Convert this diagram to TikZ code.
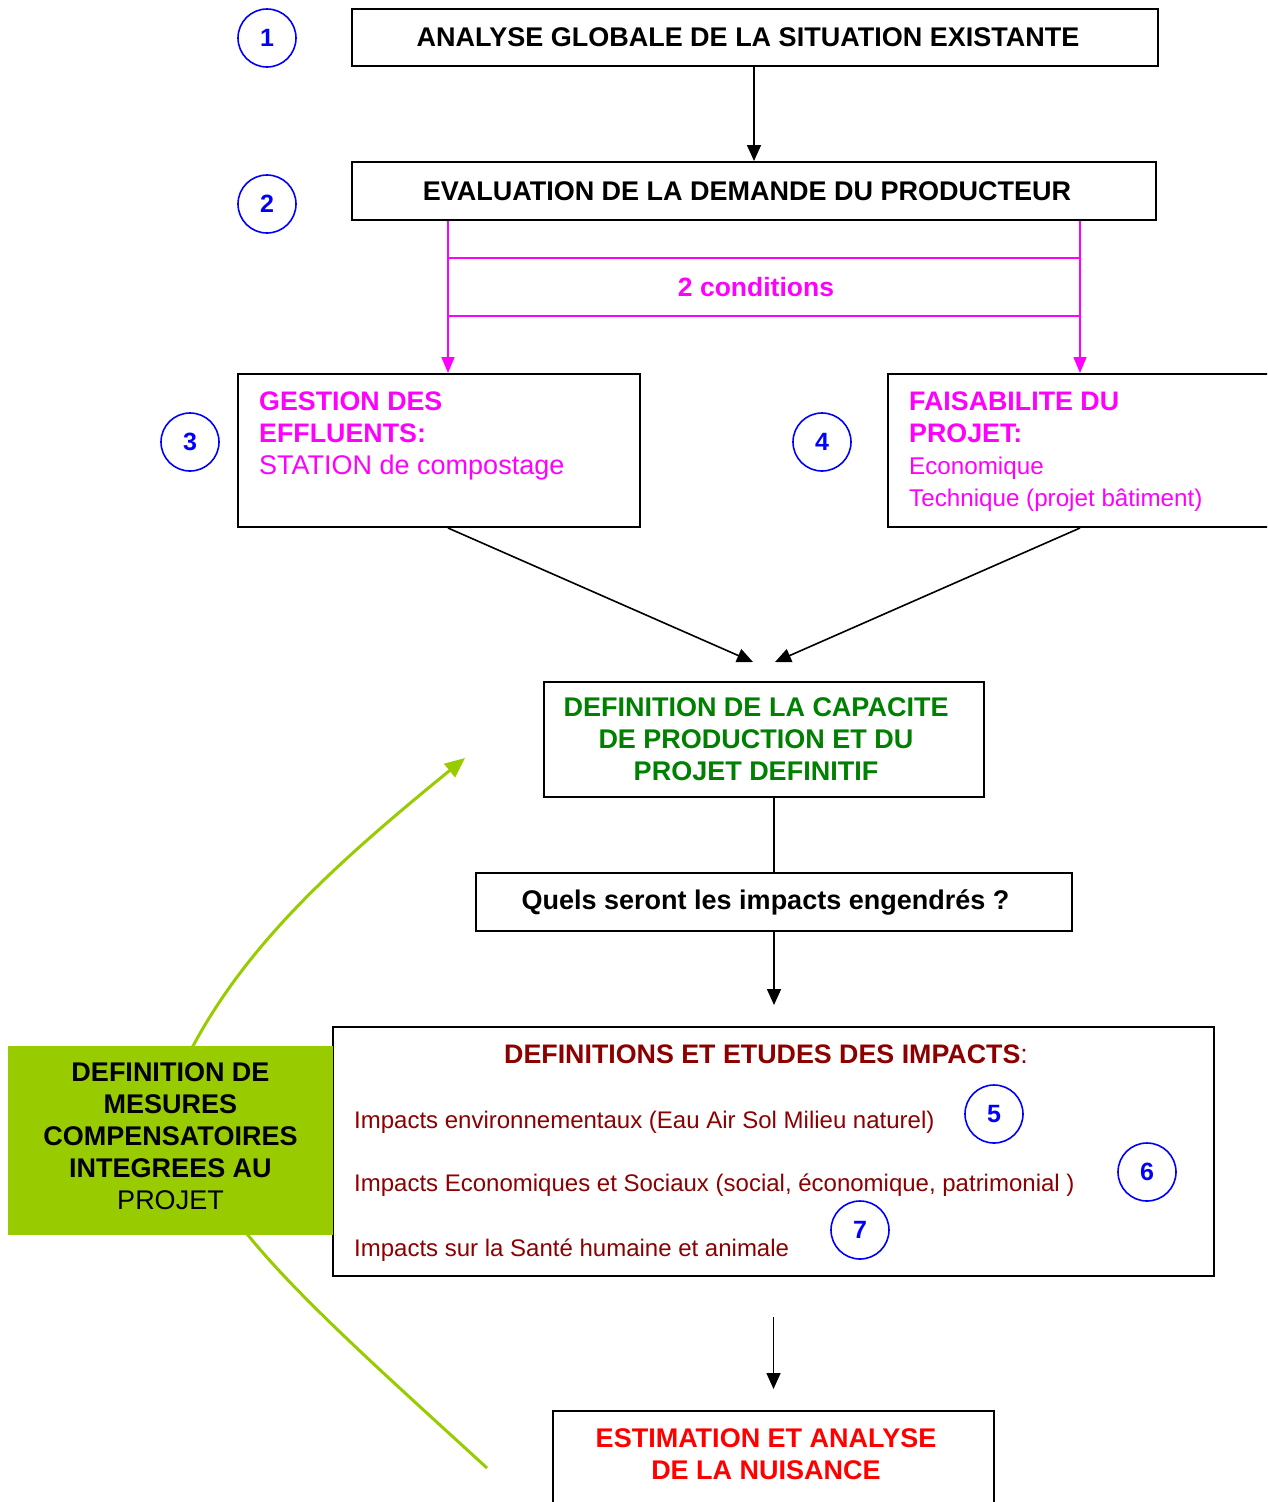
\documentclass[tikz,border=0pt]{standalone}
\usepackage{fontspec}
\setmainfont{Liberation Sans}
\usetikzlibrary{arrows.meta}
\definecolor{mag}{RGB}{255,0,255}
\definecolor{numblue}{RGB}{0,0,255}
\definecolor{dgreen}{RGB}{0,128,0}
\definecolor{dred}{RGB}{140,0,0}
\definecolor{lgreen}{RGB}{153,204,0}
\newcommand{\fsz}[2]{\fontsize{#1}{#2}\selectfont}
\begin{document}
\begin{tikzpicture}[x=1pt,y=-1pt,
  box/.style={draw=black,line width=2pt,inner sep=0pt,fill=white},
  num/.style={circle,draw=numblue,line width=1.6pt,minimum size=58pt,inner sep=0pt,text=numblue,font=\fsz{25}{28}\bfseries},
  arr/.style={-{Triangle[length=16pt,width=14pt]},line width=1.6pt},
  marr/.style={draw=mag,line width=1.6pt,-{Triangle[length=16pt,width=13pt]},mag},
  head/.style={font=\fsz{27}{32}\bfseries}
]
\clip (0,0) rectangle (1267,1502);
\fill[white] (0,0) rectangle (1267,1502);

% green curved arrow (behind the green box)
\coordinate (gstart) at (487,1468);
\coordinate (gend) at (465,758);
\draw[draw=lgreen,line width=3pt,-{Triangle[length=20pt,width=17pt]},lgreen]
  (gstart) .. controls (380,1370) and (290,1290) .. (240,1225)
  .. controls (190,1160) and (175,1090) .. (193,1046)
  .. controls (250,940) and (340,860) .. (gend);

% boxes
\node[box,head,minimum width=806pt,minimum height=57pt] (box1) at (755,37.5) {\hspace*{-14pt}ANALYSE GLOBALE DE LA SITUATION EXISTANTE};
\node[box,head,minimum width=804pt,minimum height=58pt] (box2) at (754,191) {\hspace*{-14pt}EVALUATION DE LA DEMANDE DU PRODUCTEUR};
\node[box,minimum width=402pt,minimum height=153pt] (box3) at (439,450.5) {};
\node[box,minimum width=384pt,minimum height=153pt] (box4) at (1080,450.5) {};
\node[box,head,text=dgreen,align=center,minimum width=440pt,minimum height=115pt] (box5) at (764,739.5)
  {\hspace*{-16pt}DEFINITION DE LA CAPACITE\\\hspace*{-16pt}DE PRODUCTION ET DU\\\hspace*{-16pt}PROJET DEFINITIF};
\node[box,head,minimum width=596pt,minimum height=58pt] (box6) at (774,902) {\hspace*{-17pt}Quels seront les impacts engendrés ?};
\node[box,minimum width=881pt,minimum height=249pt] (box7) at (773.5,1151.5) {};
\node[fill=lgreen,inner sep=0pt,minimum width=325pt,minimum height=189pt,align=center,font=\fsz{27}{32}] (green) at (170.5,1140.5)
  {\textbf{DEFINITION DE}\\\textbf{MESURES}\\\textbf{COMPENSATOIRES}\\\textbf{INTEGREES AU}\\PROJET\rule[-8pt]{0pt}{1pt}};
\node[box,minimum width=441pt,minimum height=110pt] (box8) at (773.5,1466) {};

% texts inside boxes
\node[anchor=north west,inner sep=0pt,align=left,text=mag,font=\fsz{26.8}{32}] (t3) at (259,392)
  {\textbf{GESTION DES}\\\textbf{EFFLUENTS:}\\\fsz{27}{32}STATION de compostage};
\node[anchor=north west,inner sep=0pt,align=left,text=mag,font=\fsz{26.8}{32}] (t4) at (909,392)
  {\textbf{FAISABILITE DU}\\\textbf{PROJET:}\\\fsz{24.2}{33}Economique\\\fsz{24.2}{32}Technique (projet bâtiment)};
\node[text=dred,font=\fsz{26.8}{32}] (t7) at (766,1054) {\textbf{DEFINITIONS ET ETUDES DES IMPACTS}:};
\node[anchor=base west,inner sep=0pt,text=dred,font=\fsz{24}{28}] (i5) at (354,1128.6) {Impacts environnementaux (Eau Air Sol Milieu naturel)};
\node[anchor=base west,inner sep=0pt,text=dred,font=\fsz{24}{28}] (i6) at (354,1191.6) {Impacts Economiques et Sociaux (social, économique, patrimonial )};
\node[anchor=base west,inner sep=0pt,text=dred,font=\fsz{24}{28}] (i7) at (354,1256.6) {Impacts sur la Santé humaine et animale};
\node[anchor=north,inner sep=0pt,align=center,text=red,font=\fsz{27}{32}\bfseries] (t8) at (766,1428.3)
  {ESTIMATION ET ANALYSE\\DE LA NUISANCE};

% number circles
\node[num] (n1) at (267,38) {1};
\node[num] (n2) at (267,204) {2};
\node[num] (n3) at (190,442) {3};
\node[num] (n4) at (822,442) {4};
\node[num] (n5) at (994,1114) {5};
\node[num] (n6) at (1147,1172) {6};
\node[num] (n7) at (860,1230) {7};

% magenta branch
\coordinate (m3) at (448,0);
\coordinate (m4) at (1080,0);
\node[draw=mag,line width=1.6pt,inner sep=0pt,minimum width=632pt,minimum height=58pt,text=mag,font=\fsz{26.5}{28}\bfseries] (cond) at (764,287) {\hspace*{-16pt}2 conditions};
\draw[marr] (box2.south -| m3) -- (box3.north -| m3);
\draw[marr] (box2.south -| m4) -- (box4.north -| m4);

% black connectors
\coordinate (a5l) at (753,662);
\coordinate (a5r) at (775,662);
\draw[arr] (box2.north |- box1.south) -- (box2.north);
\draw[arr] (box3.south -| m3) -- (a5l);
\draw[arr] (box4.south -| m4) -- (a5r);
\draw[line width=1.6pt] (box6.north |- box5.south) -- (box6.north);
\draw[arr,shorten >=21pt] (box6.south) -- (box6.south |- box7.north);
\draw[arr,shorten <=40pt,shorten >=21pt] (box7.south) -- (box8.north);
\end{tikzpicture}
\end{document}
